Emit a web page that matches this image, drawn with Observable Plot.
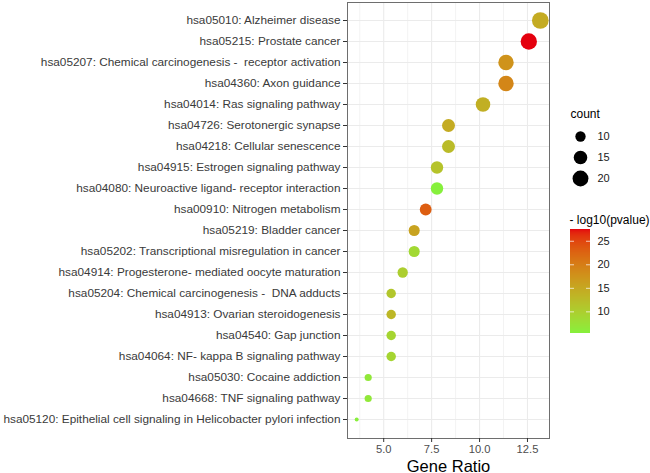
<!DOCTYPE html>
<html><head><meta charset="utf-8">
<script src="https://cdn.jsdelivr.net/npm/d3@7"></script>
<script src="https://cdn.jsdelivr.net/npm/@observablehq/plot@0.6"></script>
<style>
body{margin:0;background:#fff;font-family:"Liberation Sans",Arial,Helvetica,sans-serif}
#wrap{position:relative;width:650px;height:473px;overflow:hidden}
#wrap svg{font-family:"Liberation Sans",Arial,Helvetica,sans-serif}
.abs{position:absolute}
</style>
</head><body><div id="wrap"></div>
<script>
const terms = [
  "hsa05010: Alzheimer disease",
  "hsa05215: Prostate cancer",
  "hsa05207: Chemical carcinogenesis -  receptor activation",
  "hsa04360: Axon guidance",
  "hsa04014: Ras signaling pathway",
  "hsa04726: Serotonergic synapse",
  "hsa04218: Cellular senescence",
  "hsa04915: Estrogen signaling pathway",
  "hsa04080: Neuroactive ligand- receptor interaction",
  "hsa00910: Nitrogen metabolism",
  "hsa05219: Bladder cancer",
  "hsa05202: Transcriptional misregulation in cancer",
  "hsa04914: Progesterone- mediated oocyte maturation",
  "hsa05204: Chemical carcinogenesis -  DNA adducts",
  "hsa04913: Ovarian steroidogenesis",
  "hsa04540: Gap junction",
  "hsa04064: NF- kappa B signaling pathway",
  "hsa05030: Cocaine addiction",
  "hsa04668: TNF signaling pathway",
  "hsa05120: Epithelial cell signaling in Helicobacter pylori infection"
];
const geneRatio = [13.17, 12.57, 11.38, 11.38, 10.18, 8.38, 8.38, 7.78, 7.78, 7.19, 6.59, 6.59, 5.99, 5.39, 5.39, 5.39, 5.39, 4.19, 4.19, 3.59];
const counts    = [22, 21, 19, 19, 17, 14, 14, 13, 13, 12, 11, 11, 10, 9, 9, 9, 9, 7, 7, 6];
const logP      = [14.5, 27.5, 17.5, 19.0, 14.0, 14.5, 12.5, 11.5, 5.4, 23.0, 15.5, 8.5, 10.0, 11.0, 13.0, 9.0, 9.0, 6.5, 6.5, 5.6];
const xTicks = [5, 7.5, 10, 12.5];
const xMinorTicks = [3.75, 6.25, 8.75, 11.25, 13.75];
const sizeLegendValues = [10, 15, 20];
const colorLegendTicks = [10, 15, 20, 25];

const data = terms.map((t, i) => ({term: t, ratio: geneRatio[i], count: counts[i], p: logP[i]}));
const cMin = d3.min(counts), cMax = d3.max(counts);
const rOf = c => 1 + Math.sqrt(c - cMin);
const rScale = {type: "linear", domain: [1, rOf(cMax)], range: [2, 8.35]};
const pExt = d3.extent(logP);
const colorScale = {type: "linear", domain: pExt, range: ["#86F03C", "#E4000E"], interpolate: "lab"};
const xExt = d3.extent(geneRatio);
const xPad = (xExt[1] - xExt[0]) * 0.05;

// panel geometry (ggplot discrete expansion of 0.6 step)
const panelTop = 2, panelBottom = 438;
const yStep = (panelBottom - panelTop) / (terms.length - 1 + 1.2);

const wrap = document.getElementById("wrap");

const main = Plot.plot({
  width: 650, height: 473,
  marginLeft: 347, marginRight: 101, marginTop: panelTop, marginBottom: 473 - panelBottom,
  style: {background: "white", overflow: "visible"},
  x: {domain: [xExt[0] - xPad, xExt[1] + xPad]},
  y: {type: "point", domain: terms, range: [panelTop + 0.6 * yStep, panelBottom - 0.6 * yStep], padding: 0},
  r: rScale,
  color: colorScale,
  marks: [
    Plot.gridX(xMinorTicks.filter(v => v > xExt[0] - xPad && v < xExt[1] + xPad), {stroke: "#EBEBEB", strokeOpacity: 1, strokeWidth: 0.6}),
    Plot.gridX(xTicks, {stroke: "#EBEBEB", strokeOpacity: 1, strokeWidth: 1.1}),
    Plot.gridY({stroke: "#EBEBEB", strokeOpacity: 1, strokeWidth: 1.1}),
    Plot.dot(data, {x: "ratio", y: "term", r: d => rOf(d.count), fill: "p", stroke: "none"}),
    Plot.frame({stroke: "#6E6E6E", strokeWidth: 1}),
    Plot.axisY({tickSize: 4, tickPadding: 3, fontSize: 11.8, fill: "#3A3A3A", stroke: "#333", label: null}),
    Plot.axisX(xTicks, {tickSize: 4, tickPadding: 3, fontSize: 11.2, fill: "#4D4D4D", stroke: "#333", tickFormat: d => d.toFixed(1), label: null}),
    Plot.text(["Gene Ratio"], {frameAnchor: "bottom", dy: 33, fontSize: 16.5, fill: "#000", lineAnchor: "bottom"})
  ]
});
wrap.appendChild(main);

// size legend
const sizeLeg = Plot.plot({
  width: 90, height: 95, margin: 0,
  style: {background: "transparent"},
  x: {domain: [0, 1], range: [0, 90], axis: null},
  y: {type: "point", domain: sizeLegendValues, range: [36, 78], padding: 0, axis: null},
  r: rScale,
  marks: [
    Plot.text(["count"], {frameAnchor: "top-left", dx: 10, dy: 9, fontSize: 12, fill: "#000", textAnchor: "start"}),
    Plot.dot(sizeLegendValues, {x: 20 / 90, y: d => d, r: d => rOf(d), fill: "black"}),
    Plot.text(sizeLegendValues, {x: 37 / 90, y: d => d, text: d => String(d), fontSize: 11, fill: "#1a1a1a", textAnchor: "start"})
  ]
});
sizeLeg.classList.add("abs");
sizeLeg.style.left = "560px"; sizeLeg.style.top = "100px";
wrap.appendChild(sizeLeg);

// colorbar legend
const nSteps = 104;
const steps = d3.range(0, nSteps).map(i => {
  const a = pExt[0] + (pExt[1] - pExt[0]) * i / nSteps;
  const b = pExt[0] + (pExt[1] - pExt[0]) * (i + 1) / nSteps;
  return {a, b};
});
const colLeg = Plot.plot({
  width: 90, height: 135, margin: 0,
  style: {background: "transparent"},
  x: {domain: [0, 1], range: [10, 30], axis: null},
  y: {domain: pExt, range: [128, 24], axis: null},
  color: colorScale,
  marks: [
    Plot.text(["- log10(pvalue)"], {frameAnchor: "top-left", dx: 9, dy: 10, fontSize: 12, fill: "#000", textAnchor: "start"}),
    Plot.rect(steps, {x1: 0, x2: 1, y1: "a", y2: d => Math.min(pExt[1], d.b + 0.15), fill: d => (d.a + d.b) / 2, shapeRendering: "crispEdges"}),
    Plot.ruleY(colorLegendTicks, {x1: 0, x2: 0.2, stroke: "white", strokeWidth: 1, strokeOpacity: 0.7}),
    Plot.ruleY(colorLegendTicks, {x1: 0.8, x2: 1, stroke: "white", strokeWidth: 1, strokeOpacity: 0.7}),
    Plot.text(colorLegendTicks, {x: 1, dx: 7, y: d => d, text: d => String(d), fontSize: 11, fill: "#1a1a1a", textAnchor: "start"})
  ]
});
colLeg.classList.add("abs");
colLeg.style.left = "560px"; colLeg.style.top = "205px";
wrap.appendChild(colLeg);
</script>
</body></html>
